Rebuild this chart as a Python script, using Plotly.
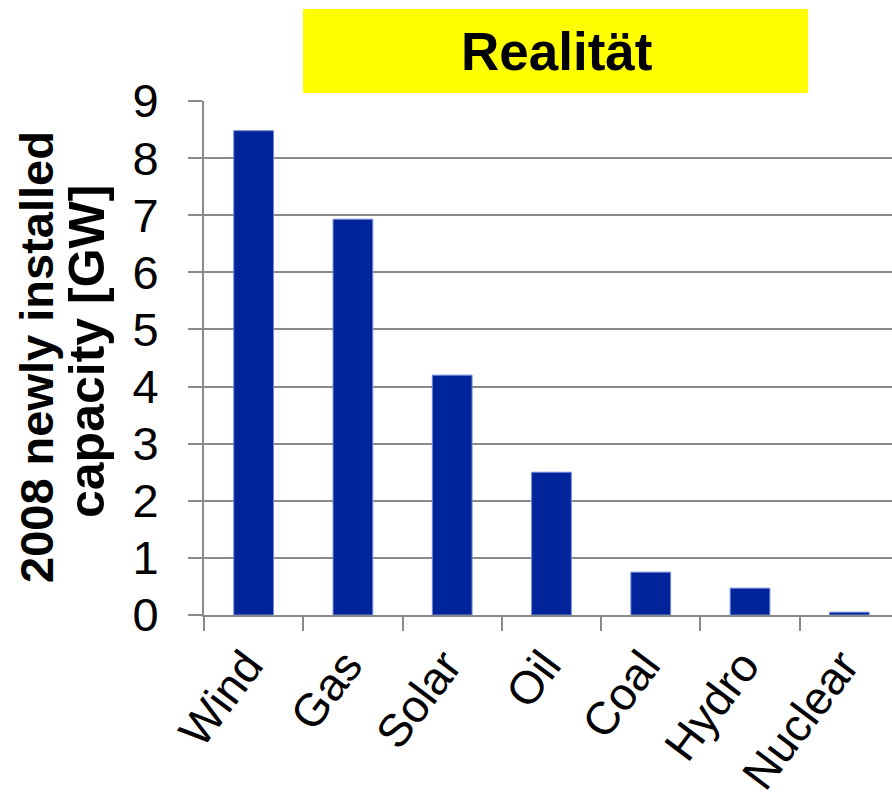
import plotly.graph_objects as go

categories = ["Wind", "Gas", "Solar", "Oil", "Coal", "Hydro", "Nuclear"]
capacity_gw = [8.48, 6.93, 4.2, 2.5, 0.75, 0.47, 0.05]
y_ticks = [0, 1, 2, 3, 4, 5, 6, 7, 8, 9]
title_text = "Realität"
ytitle_line1 = "2008 newly installed"
ytitle_line2 = "capacity [GW]"

W, H = 892, 803
ML, MR, MT, MB = 204, 0, 101, 188
pw = W - ML - MR
ph = H - MT - MB

def px(x):
    return (x - ML) / pw

def py(y):
    return (H - MB - y) / ph

fig = go.Figure()
fig.add_trace(go.Bar(
    x=categories, y=capacity_gw, width=0.4,
    marker=dict(color="#00249B", line=dict(color="#7088d4", width=1)),
))

fig.update_layout(
    width=W, height=H,
    margin=dict(l=ML, r=MR, t=MT, b=MB, autoexpand=False),
    paper_bgcolor="white", plot_bgcolor="white",
    showlegend=False,
    font=dict(family="Liberation Sans, Arial, sans-serif", color="black"),
)
fig.update_xaxes(
    range=[-0.5, 6.43], automargin=False,
    showline=True, linecolor="#8a8a8a", linewidth=2,
    ticks="outside", tickson="boundaries", ticklen=14, tickcolor="#8a8a8a", tickwidth=2,
    tickangle=-53, tickfont=dict(size=46, color="black"),
    ticklabelstandoff=3, ticklabelshift=-7,
    showgrid=False, zeroline=False,
)
fig.update_yaxes(
    range=[0, 9], tickvals=y_ticks, automargin=False,
    showline=True, linecolor="#8a8a8a", linewidth=2,
    ticks="outside", ticklen=14, tickcolor="#8a8a8a", tickwidth=2,
    tickfont=dict(size=47, color="black"), ticklabelstandoff=20,
    showgrid=True, gridcolor="#8a8a8a", gridwidth=1.5,
    zeroline=False,
)

fig.add_shape(type="rect", xref="paper", yref="paper",
              x0=px(303), x1=px(808), y0=py(93), y1=py(9),
              fillcolor="#FFFF00", line=dict(width=0), layer="above")
fig.add_annotation(text=title_text, xref="paper", yref="paper",
                   x=px(556), y=py(52), xanchor="center", yanchor="middle",
                   showarrow=False, font=dict(size=53, color="black",
                   family="Liberation Sans, Arial, sans-serif", weight="bold"))
fig.add_annotation(text=ytitle_line1, xref="paper", yref="paper",
                   x=px(36), y=py(357), xanchor="center", yanchor="middle",
                   textangle=-90, showarrow=False,
                   font=dict(size=47, color="black", weight="bold",
                             family="Liberation Sans, Arial, sans-serif"))
fig.add_annotation(text=ytitle_line2, xref="paper", yref="paper",
                   x=px(87), y=py(352), xanchor="center", yanchor="middle",
                   textangle=-90, showarrow=False,
                   font=dict(size=50, color="black", weight="bold",
                             family="Liberation Sans, Arial, sans-serif"))

fig.write_html("out.html")
